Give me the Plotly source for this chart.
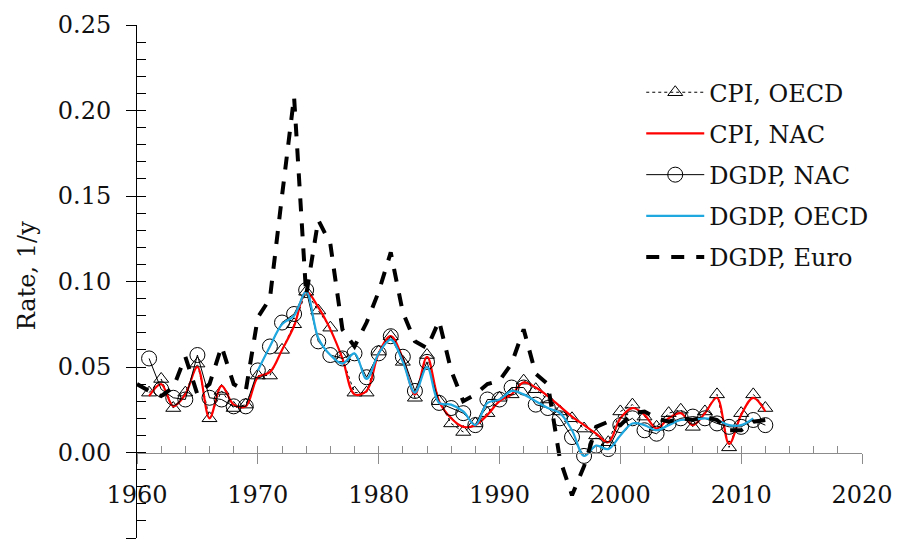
import plotly.graph_objects as go

# ---------------- data ----------------
years_main = list(range(1961, 2013))          # CPI OECD, CPI NAC, DGDP NAC
years_dgdp_oecd = list(range(1970, 2012))
years_euro = list(range(1960, 2013))

cpi_oecd = [0.035, 0.043, 0.026, 0.035, 0.052, 0.020, 0.036, 0.026, 0.028, 0.045,
            0.045, 0.060, 0.075, 0.094, 0.083, 0.073, 0.055, 0.035, 0.035, 0.059,
            0.068, 0.053, 0.032, 0.057, 0.030, 0.017, 0.012, 0.017, 0.023, 0.032,
            0.034, 0.042, 0.037, 0.031, 0.024, 0.020, 0.014, 0.010, 0.006, 0.024,
            0.028, 0.021, 0.015, 0.023, 0.025, 0.015, 0.024, 0.034, 0.003, 0.023,
            0.034, 0.026]

cpi_nac = [0.033, 0.040, 0.027, 0.034, 0.050, 0.020, 0.039, 0.028, 0.027, 0.044,
           0.047, 0.060, 0.074, 0.094, 0.085, 0.072, 0.055, 0.034, 0.036, 0.058,
           0.068, 0.055, 0.034, 0.056, 0.030, 0.020, 0.015, 0.016, 0.022, 0.030,
           0.034, 0.041, 0.038, 0.033, 0.027, 0.021, 0.016, 0.011, 0.006, 0.020,
           0.026, 0.022, 0.014, 0.020, 0.023, 0.016, 0.023, 0.032, 0.005, 0.022,
           0.032, 0.024]

dgdp_nac = [0.055, 0.037, 0.032, 0.031, 0.057, 0.032, 0.031, 0.027, 0.027, 0.048,
            0.062, 0.076, 0.081, 0.095, 0.065, 0.057, 0.055, 0.058, 0.044, 0.058,
            0.068, 0.056, 0.036, 0.053, 0.029, 0.026, 0.023, 0.016, 0.031, 0.031,
            0.038, 0.038, 0.028, 0.026, 0.020, 0.009, -0.002, 0.004, 0.002, 0.016,
            0.020, 0.013, 0.011, 0.017, 0.020, 0.021, 0.020, 0.017, 0.015, 0.015,
            0.019, 0.016]

dgdp_oecd = [0.048, 0.062, 0.075, 0.080, 0.094, 0.067, 0.057, 0.052, 0.058, 0.043,
             0.058, 0.066, 0.053, 0.035, 0.050, 0.029, 0.028, 0.024, 0.016, 0.029,
             0.031, 0.036, 0.034, 0.030, 0.026, 0.023, 0.013, -0.002, 0.004, 0.002,
             0.010, 0.017, 0.016, 0.013, 0.016, 0.019, 0.019, 0.020, 0.019, 0.016,
             0.016, 0.020]

dgdp_euro = [0.040, 0.036, 0.033, 0.038, 0.056, 0.034, 0.040, 0.062, 0.040, 0.036,
             0.079, 0.090, 0.150, 0.208, 0.092, 0.136, 0.122, 0.072, 0.062, 0.076,
             0.094, 0.117, 0.082, 0.065, 0.061, 0.077, 0.048, 0.030, 0.034, 0.040,
             0.042, 0.052, 0.072, 0.046, 0.040, -0.004, -0.025, -0.008, 0.015, 0.018,
             0.016, 0.023, 0.024, 0.020, 0.018, 0.020, 0.019, 0.021, 0.019, 0.013,
             0.013, 0.018, 0.019]

x_ticks = [1960, 1970, 1980, 1990, 2000, 2010, 2020]
y_ticks = [-0.05, 0.00, 0.05, 0.10, 0.15, 0.20, 0.25]
y_tick_text = ["-0.05", "0.00", "0.05", "0.10", "0.15", "0.20", "0.25"]

FONT = "DejaVu Serif"
TXT = "#111111"

fig = go.Figure()

fig.add_trace(go.Scatter(
    x=years_main, y=cpi_oecd, name="CPI, OECD", mode="lines+markers",
    line=dict(color="black", width=1, dash="dot"),
    marker=dict(symbol="triangle-up-open", size=13, color="black", line=dict(width=1)),
    legendgroup="a"))
fig.add_trace(go.Scatter(
    x=years_main, y=cpi_nac, name="CPI, NAC", mode="lines",
    line=dict(color="#ff0000", width=2.2, shape="spline", smoothing=1.0),
    legendgroup="b"))
fig.add_trace(go.Scatter(
    x=years_main, y=dgdp_nac, name="DGDP, NAC", mode="lines+markers",
    line=dict(color="black", width=1),
    marker=dict(symbol="circle-open", size=15, color="black", line=dict(width=1)),
    legendgroup="c"))
fig.add_trace(go.Scatter(
    x=years_dgdp_oecd, y=dgdp_oecd, name="DGDP, OECD", mode="lines",
    line=dict(color="#1fa7e0", width=2.2, shape="spline", smoothing=1.0),
    legendgroup="d"))
fig.add_trace(go.Scatter(
    x=years_euro, y=dgdp_euro, name="DGDP, Euro", mode="lines",
    line=dict(color="black", width=4, dash="13px,12px"),
    legendgroup="e"))
# empty trace so that the overlay axes (inside ticks) are drawn
fig.add_trace(go.Scatter(x=[], y=[], xaxis="x2", yaxis="y2", showlegend=False,
                         hoverinfo="skip"))

fig.update_layout(
    width=904, height=549,
    margin=dict(l=137, r=36, t=24, b=11),
    paper_bgcolor="white", plot_bgcolor="white",
    font=dict(family=FONT, size=24, color=TXT),
    showlegend=True,
    legend=dict(x=0.6955, y=0.912, xanchor="left", yanchor="top",
                bgcolor="rgba(0,0,0,0)", borderwidth=0,
                font=dict(family=FONT, size=24, color=TXT),
                itemwidth=58, tracegroupgap=7, traceorder="grouped"),
    xaxis=dict(range=[1960, 2020], tickvals=x_ticks, ticks="outside", ticklen=10,
               tickcolor="#8c8c8c", showline=True, linecolor="#8c8c8c", linewidth=1,
               anchor="free", position=1/6, showgrid=False, zeroline=False,
               ticklabelstandoff=11, tickfont=dict(family=FONT, size=24, color=TXT)),
    xaxis2=dict(range=[1960, 2020], overlaying="x", anchor="free", position=1/6,
                tick0=1960, dtick=2, ticks="inside", ticklen=7, tickcolor="#8c8c8c",
                showticklabels=False, showline=False, showgrid=False, zeroline=False),
    yaxis=dict(range=[-0.05, 0.25], tickvals=y_ticks, ticktext=y_tick_text,
               ticks="outside", ticklen=10, tickcolor="black", showline=True,
               linecolor="black", linewidth=1, anchor="x", showgrid=False,
               zeroline=False, ticklabelstandoff=10,
               tickfont=dict(family=FONT, size=24, color=TXT)),
    yaxis2=dict(range=[-0.05, 0.25], overlaying="y", anchor="x", side="left",
                tick0=0, dtick=0.01, ticks="inside", ticklen=9, tickcolor="black",
                showticklabels=False, showline=False, showgrid=False, zeroline=False),
    annotations=[dict(text="Rate, 1/y", xref="paper", yref="paper",
                      x=(26 - 137) / 731, y=0.512, textangle=-90, showarrow=False,
                      xanchor="center", yanchor="middle",
                      font=dict(family=FONT, size=24, color=TXT))],
)

fig.write_html("out.html")
